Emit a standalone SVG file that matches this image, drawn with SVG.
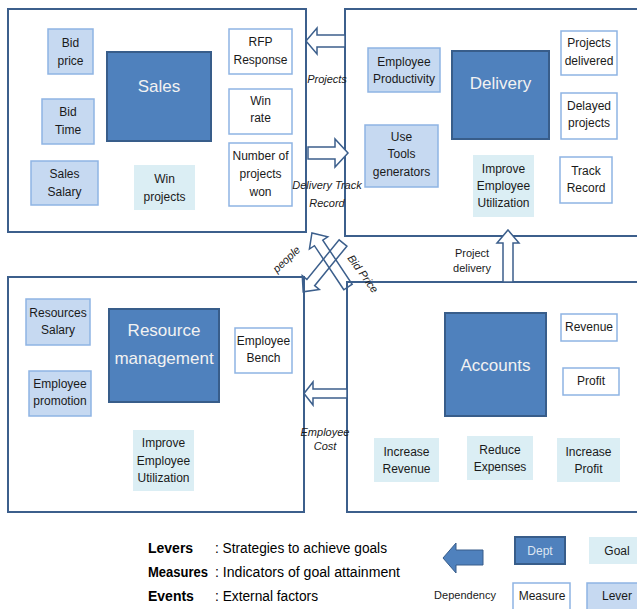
<svg xmlns="http://www.w3.org/2000/svg" width="637" height="609" viewBox="0 0 637 609">
<style>
.bg{fill:#ffffff}
.cont{fill:#ffffff;stroke:#3c5f8c;stroke-width:2}
.dept{fill:#4f81bd;stroke:#385d8a;stroke-width:2}
.lever{fill:#c6d9f1;stroke:#8eb4e3;stroke-width:1.5}
.measure{fill:#ffffff;stroke:#8eb4e3;stroke-width:1.5}
.goal{fill:#dbeef4;stroke:none}
.t{font-family:"Liberation Sans",Arial,sans-serif;font-size:12px;fill:#1a1a1a;text-anchor:middle}
.dt{font-family:"Liberation Sans",Arial,sans-serif;font-size:17px;fill:#f2f2f2;text-anchor:middle}
.lbl{font-family:"Liberation Sans",Arial,sans-serif;font-size:11px;font-style:italic;fill:#1a1a1a;text-anchor:middle}
.lbn{font-family:"Liberation Sans",Arial,sans-serif;font-size:11px;fill:#1a1a1a;text-anchor:middle}
.arr{fill:#ffffff;stroke:#3c5f8c;stroke-width:1.5;stroke-linejoin:miter}
.arrx{fill:none;stroke:#3c5f8c;stroke-width:1.5}
.lg{font-family:"Liberation Sans",Arial,sans-serif;font-size:14px;font-weight:bold;fill:#000}
.ld{font-family:"Liberation Sans",Arial,sans-serif;font-size:14px;fill:#000}
</style>
<rect class="bg" x="0" y="0" width="637" height="609"/>

<!-- containers -->
<g id="sales-area"><rect class="cont" x="8" y="9" width="298" height="223"/></g>
<g id="delivery-area"><rect class="cont" x="345" y="9" width="300" height="227"/></g>
<g id="resource-area"><rect class="cont" x="8" y="277" width="296" height="235"/></g>
<g id="accounts-area"><rect class="cont" x="347" y="282" width="300" height="230"/></g>

<!-- Sales nodes -->
<g id="sales"><rect class="dept" x="107" y="52" width="104" height="89"/><text class="dt" x="159" y="92">Sales</text></g>
<g id="bid-price"><rect class="lever" x="48" y="29" width="45" height="45"/><text class="t" x="70.5" y="47">Bid</text><text class="t" x="70.5" y="65">price</text></g>
<g id="bid-time"><rect class="lever" x="42" y="99" width="52" height="45"/><text class="t" x="68" y="116">Bid</text><text class="t" x="68" y="134">Time</text></g>
<g id="sales-salary"><rect class="lever" x="31" y="161" width="67" height="44"/><text class="t" x="64.5" y="178">Sales</text><text class="t" x="64.5" y="196">Salary</text></g>
<g id="win-projects"><rect class="goal" x="134" y="165" width="61" height="45"/><text class="t" x="164.5" y="183">Win</text><text class="t" x="164.5" y="201">projects</text></g>
<g id="rfp-response"><rect class="measure" x="229" y="29" width="63" height="45"/><text class="t" x="260.5" y="46">RFP</text><text class="t" x="260.5" y="64">Response</text></g>
<g id="win-rate"><rect class="measure" x="229" y="89" width="63" height="45"/><text class="t" x="260.5" y="105">Win</text><text class="t" x="260.5" y="122">rate</text></g>
<g id="projects-won"><rect class="measure" x="229" y="143" width="63" height="63"/><text class="t" x="260.5" y="160">Number of</text><text class="t" x="260.5" y="178">projects</text><text class="t" x="260.5" y="196">won</text></g>

<!-- Delivery nodes -->
<g id="delivery"><rect class="dept" x="452" y="51" width="97" height="88"/><text class="dt" x="500.5" y="89">Delivery</text></g>
<g id="employee-productivity"><rect class="lever" x="368" y="48" width="72" height="44"/><text class="t" x="404" y="66">Employee</text><text class="t" x="404" y="83">Productivity</text></g>
<g id="use-tools"><rect class="lever" x="365" y="125" width="73" height="62"/><text class="t" x="401.5" y="141">Use</text><text class="t" x="401.5" y="158">Tools</text><text class="t" x="401.5" y="176">generators</text></g>
<g id="improve-util-d"><rect class="goal" x="473" y="155" width="61" height="62"/><text class="t" x="503.5" y="173">Improve</text><text class="t" x="503.5" y="190">Employee</text><text class="t" x="503.5" y="207">Utilization</text></g>
<g id="projects-delivered"><rect class="measure" x="561" y="31" width="56" height="44"/><text class="t" x="589" y="47">Projects</text><text class="t" x="589" y="65">delivered</text></g>
<g id="delayed-projects"><rect class="measure" x="561" y="93" width="56" height="46"/><text class="t" x="589" y="110">Delayed</text><text class="t" x="589" y="127">projects</text></g>
<g id="track-record"><rect class="measure" x="560" y="157" width="52" height="46"/><text class="t" x="586" y="175">Track</text><text class="t" x="586" y="192">Record</text></g>

<!-- Resource nodes -->
<g id="resource-management"><rect class="dept" x="109" y="309" width="110" height="93"/><text class="dt" x="164" y="336">Resource</text><text class="dt" x="164" y="364">management</text></g>
<g id="resources-salary"><rect class="lever" x="26" y="299" width="64" height="46"/><text class="t" x="58" y="317">Resources</text><text class="t" x="58" y="334">Salary</text></g>
<g id="employee-promotion"><rect class="lever" x="29" y="371" width="62" height="45"/><text class="t" x="60" y="388">Employee</text><text class="t" x="60" y="405">promotion</text></g>
<g id="employee-bench"><rect class="measure" x="235" y="328" width="57" height="45"/><text class="t" x="263.5" y="345">Employee</text><text class="t" x="263.5" y="362">Bench</text></g>
<g id="improve-util-r"><rect class="goal" x="133" y="430" width="61" height="61"/><text class="t" x="163.5" y="447">Improve</text><text class="t" x="163.5" y="465">Employee</text><text class="t" x="163.5" y="482">Utilization</text></g>

<!-- Accounts nodes -->
<g id="accounts"><rect class="dept" x="445" y="313" width="101" height="103"/><text class="dt" x="495.5" y="371">Accounts</text></g>
<g id="revenue"><rect class="measure" x="561" y="314" width="56" height="27"/><text class="t" x="589" y="331">Revenue</text></g>
<g id="profit"><rect class="measure" x="563" y="368" width="56" height="27"/><text class="t" x="591" y="385">Profit</text></g>
<g id="increase-revenue"><rect class="goal" x="374" y="438" width="65" height="44"/><text class="t" x="406.5" y="456">Increase</text><text class="t" x="406.5" y="473">Revenue</text></g>
<g id="reduce-expenses"><rect class="goal" x="467" y="436" width="66" height="44"/><text class="t" x="500" y="454">Reduce</text><text class="t" x="500" y="471">Expenses</text></g>
<g id="increase-profit"><rect class="goal" x="557" y="438" width="63" height="44"/><text class="t" x="588.5" y="456">Increase</text><text class="t" x="588.5" y="473">Profit</text></g>

<!-- connectors -->
<g id="connectors">
  <polygon class="arr" points="306,41 317,28 317,35 345,35 345,47 317,47 317,54"/>
  <text class="lbl" x="327" y="83">Projects</text>
  <polygon class="arr" points="348,153 335,139 335,147 308,147 308,159 335,159 335,167"/>
  <text class="lbl" x="327" y="189">Delivery Track</text>
  <text class="lbl" x="327" y="207">Record</text>
  <polygon class="arr" points="304,393.5 313,382 313,389 347,389 347,398 313,398 313,405"/>
  <text class="lbl" x="325" y="436">Employee</text>
  <text class="lbl" x="325" y="450">Cost</text>
  <polygon class="arr" points="508,230 519,243 513,243 513,282 503,282 503,243 497,243"/>
  <text class="lbn" x="472" y="257">Project</text>
  <text class="lbn" x="472" y="272">delivery</text>
  <path class="arrx" transform="translate(348,287) rotate(-123.7)" d="M0,-5 H53 V-11 L65,0 L53,11 V5 H0 Z"/>
  <path class="arrx" transform="translate(343,243) rotate(129.2)" d="M0,-5 H51 V-11 L63,0 L51,11 V5 H0 Z"/>
  <text class="lbl" transform="translate(289,262) rotate(-43)">people</text>
  <text class="lbl" transform="translate(360,276) rotate(54)">Bid Price</text>
</g>

<!-- legend -->
<g id="legend-text">
  <text class="lg" x="148" y="553">Levers</text>
  <text class="ld" x="215" y="553" textLength="172" lengthAdjust="spacingAndGlyphs">: Strategies to achieve goals</text>
  <text class="lg" x="148" y="577" textLength="60" lengthAdjust="spacingAndGlyphs">Measures</text>
  <text class="ld" x="215" y="577" textLength="185" lengthAdjust="spacingAndGlyphs">: Indicators of goal attainment</text>
  <text class="lg" x="148" y="601">Events</text>
  <text class="ld" x="215" y="601" textLength="103" lengthAdjust="spacingAndGlyphs">: External factors</text>
</g>
<g id="legend-dependency">
  <polygon points="443,558 456,543 456,550 483,550 483,565 456,565 456,573" fill="#4f81bd" stroke="#385d8a" stroke-width="1"/>
  <text class="lbn" x="465" y="599">Dependency</text>
</g>
<g id="legend-dept"><rect class="dept" x="515" y="537" width="50" height="27"/><text class="t" x="540" y="555" style="fill:#dce6f2">Dept</text></g>
<g id="legend-goal"><rect class="goal" x="589" y="537" width="50" height="27"/><text class="t" x="617" y="555">Goal</text></g>
<g id="legend-measure"><rect class="measure" x="513" y="583" width="57" height="28"/><text class="t" x="542" y="600">Measure</text></g>
<g id="legend-lever"><rect class="lever" x="587" y="583" width="52" height="28"/><text class="t" x="617" y="600">Lever</text></g>
</svg>
